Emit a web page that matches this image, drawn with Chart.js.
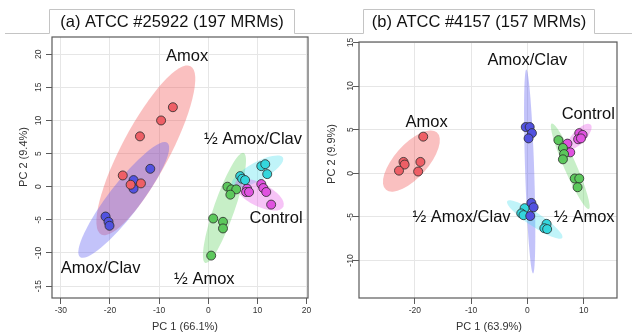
<!DOCTYPE html>
<html lang="en">
<head>
  <meta charset="UTF-8" />
  <title>PCA of MRM data</title>
  <script src="https://cdn.jsdelivr.net/npm/chart.js"></script>
  <style>
    body {
      margin: 0;
      background: #fff;
      width: 632px;
      height: 335px;
      position: relative;
      overflow: hidden;
    }
    canvas {
      position: absolute;
      top: 0;
    }
    #pcaA { left: 0; }
    #pcaB { left: 316px; }
  </style>
</head>
<body>
  <canvas id="pcaA" width="316" height="335"></canvas>
  <canvas id="pcaB" width="316" height="335"></canvas>

  <script>
    // group order used for every array below
    const groups = ['Amox', 'Amox/Clav', '½ Amox', '½ Amox/Clav', 'Control'];

    // ---- (a) ATCC #25922 ----
    const aAmox = [[-7.2, 12.0], [-9.6, 10.0], [-13.9, 7.6], [-17.4, 1.7], [-13.7, 0.5], [-15.8, 0.3]];
    const aAmoxClav = [[-11.8, 2.7], [-15.2, 1.0], [-15.2, -0.3], [-20.9, -4.5], [-20.3, -5.3], [-20.1, -5.9]];
    const aHalfAmox = [[3.9, 0.0], [4.7, -0.4], [5.7, -0.4], [4.5, -1.2], [1.0, -4.8], [3.0, -5.3], [3.0, -6.3], [0.6, -10.4]];
    const aHalfAmoxClav = [[10.8, 3.1], [11.6, 3.4], [12.0, 1.9], [6.5, 1.6], [6.9, 1.2], [7.5, 1.0]];
    const aControl = [[7.9, -0.3], [7.7, -0.8], [8.3, -0.8], [10.8, 0.4], [11.2, -0.2], [11.8, -0.8], [12.8, -2.7]];
    // ellipse: centre x, y, major tip x, y, minor tip x, y
    const aEllipses = [
      [-12.7, 5.5, -3.6, 18.2, -8.4, 3.8],
      [-17.2, -2.0, -8.3, 6.6, -14.7, -3.5],
      [3.3, -3.2, 7.2, 5.1, 5.3, -3.7],
      [10.0, 2.3, 15.2, 4.4, 10.9, 1.1],
      [10.4, -1.2, 15.3, -3.0, 9.5, -2.8]
    ];
    const aLabelPos = [[-4.3, 19.7], [-21.9, -12.3], [-0.8, -14.0], [9.1, 7.2], [13.8, -4.8]];

    // ---- (b) ATCC #4157 ----
    const bAmox = [[-18.5, 4.2], [-22.0, 1.3], [-21.8, 1.0], [-19.0, 1.3], [-22.8, 0.3], [-19.4, 0.2]];
    const bAmoxClav = [[-0.3, 5.3], [0.4, 5.3], [0.8, 4.6], [0.2, 4.0], [0.7, -3.4], [1.1, -3.9], [0.5, -4.9]];
    const bHalfAmox = [[5.5, 3.8], [6.3, 2.9], [6.5, 2.2], [6.3, 1.6], [8.4, -0.6], [9.2, -0.6], [8.9, -1.6]];
    const bHalfAmoxClav = [[-0.5, -4.0], [-1.1, -4.6], [-0.7, -4.8], [3.4, -5.8], [3.0, -6.3], [3.5, -6.4]];
    const bControl = [[7.1, 3.4], [7.6, 2.4], [9.2, 4.6], [9.8, 4.4], [9.0, 3.9], [9.5, 4.0]];
    const bEllipses = [
      [-20.6, 1.4, -16.1, 4.7, -18.3, 0.2],
      [0.4, 0.2, -0.2, 11.9, 1.2, 0.3],
      [7.6, 0.8, 4.3, 5.7, 8.6, 1.1],
      [1.3, -5.3, 6.2, -7.4, 0.7, -6.0],
      [9.2, 4.2, 11.2, 5.6, 10.1, 3.7]
    ];
    const bLabelPos = [[-17.9, 5.8], [0.0, 12.9], [10.1, -5.1], [-11.7, -5.1], [10.8, 6.7]];

    const pointColors = ['#ee5f66', '#5252e0', '#5cc85c', '#34d6dc', '#e052e0'];
    const fillColors = [
      'rgba(240,80,80,0.36)',
      'rgba(90,90,240,0.36)',
      'rgba(100,210,100,0.36)',
      'rgba(60,220,235,0.32)',
      'rgba(230,80,230,0.34)'
    ];
    const FONT = '"Liberation Sans", Arial, sans-serif';

    // confidence ellipses drawn in data space through the scales
    const ellipsePlugin = {
      id: 'ellipses',
      beforeDatasetsDraw(chart, args, opts) {
        const {ctx, chartArea, scales: {x, y}} = chart;
        ctx.save();
        ctx.beginPath();
        ctx.rect(chartArea.left, chartArea.top, chartArea.width, chartArea.height);
        ctx.clip();
        opts.items.forEach((e, i) => {
          const cx = x.getPixelForValue(e[0]), cy = y.getPixelForValue(e[1]);
          const ux = x.getPixelForValue(e[2]) - cx, uy = y.getPixelForValue(e[3]) - cy;
          const vx = x.getPixelForValue(e[4]) - cx, vy = y.getPixelForValue(e[5]) - cy;
          ctx.save();
          ctx.transform(ux, uy, vx, vy, cx, cy);
          ctx.beginPath();
          ctx.arc(0, 0, 1, 0, Math.PI * 2);
          ctx.restore();
          ctx.fillStyle = fillColors[i];
          ctx.fill();
        });
        ctx.restore();
      }
    };

    // group labels, frame, rotated y ticks, axis titles, title tab
    const decorPlugin = {
      id: 'decor',
      afterDatasetsDraw(chart, args, opts) {
        const {ctx, scales: {x, y}} = chart;
        ctx.save();
        ctx.fillStyle = '#111';
        ctx.font = '16.5px ' + FONT;
        ctx.textAlign = 'center';
        ctx.textBaseline = 'middle';
        opts.labels.forEach((p, i) => {
          ctx.fillText(groups[i], x.getPixelForValue(p[0]), y.getPixelForValue(p[1]));
        });
        ctx.restore();
      },
      afterDraw(chart, args, opts) {
        const {ctx, chartArea: a, scales: {y}} = chart;
        ctx.save();
        // plot frame
        ctx.strokeStyle = '#5a5a5a';
        ctx.lineWidth = 1.2;
        ctx.strokeRect(a.left, a.top, a.width, a.height);

        // y tick labels, rotated as in R
        ctx.fillStyle = '#333';
        ctx.font = '8.5px ' + FONT;
        ctx.textAlign = 'center';
        ctx.textBaseline = 'middle';
        y.ticks.forEach(t => {
          ctx.save();
          ctx.translate(a.left - opts.yTickGap, y.getPixelForValue(t.value));
          ctx.rotate(-Math.PI / 2);
          ctx.fillText(String(t.value), 0, 0);
          ctx.restore();
        });

        // axis titles
        ctx.font = '11px ' + FONT;
        ctx.fillText(opts.xTitle, opts.xTitleAt[0], opts.xTitleAt[1]);
        ctx.save();
        ctx.translate(opts.yTitleAt[0], opts.yTitleAt[1]);
        ctx.rotate(-Math.PI / 2);
        ctx.fillText(opts.yTitle, 0, 0);
        ctx.restore();

        // title tab
        const [t0, t1] = opts.tab;
        ctx.strokeStyle = '#c4c4c4';
        ctx.lineWidth = 1;
        ctx.beginPath();
        ctx.moveTo(opts.lineFrom, 33.5);
        ctx.lineTo(t0, 33.5);
        ctx.lineTo(t0, 9.5);
        ctx.lineTo(t1, 9.5);
        ctx.lineTo(t1, 33.5);
        ctx.lineTo(316, 33.5);
        ctx.stroke();
        ctx.fillStyle = '#111';
        ctx.font = '16.5px ' + FONT;
        ctx.fillText(opts.title, (t0 + t1) / 2, 22.5);
        ctx.restore();
      }
    };

    function makePanel(id, sets, ell, labels, p) {
      const gridOpts = {color: '#e6e6e6', tickColor: '#5a5a5a', tickLength: 6};
      new Chart(document.getElementById(id), {
        type: 'scatter',
        data: {
          datasets: sets.map((d, i) => ({
            label: groups[i],
            data: d,
            backgroundColor: pointColors[i],
            borderColor: '#2a2a2a',
            borderWidth: 0.8,
            pointRadius: 4.5
          }))
        },
        options: {
          responsive: false,
          animation: false,
          layout: {padding: {top: p.top, right: p.right, left: 0, bottom: 0}},
          scales: {
            x: {
              type: 'linear',
              min: p.xRange[0], max: p.xRange[1],
              border: {display: false},
              grid: gridOpts,
              ticks: {stepSize: 10, includeBounds: false, maxRotation: 0, padding: 2,
                      color: '#333', font: {size: 8.5, family: FONT}},
              afterFit: s => { s.height = 37; }
            },
            y: {
              type: 'linear',
              min: p.yRange[0], max: p.yRange[1],
              border: {display: false},
              grid: gridOpts,
              ticks: {stepSize: 5, includeBounds: false, display: false},
              afterFit: s => { s.width = p.left; }
            }
          },
          plugins: {
            legend: {display: false},
            tooltip: {enabled: false},
            ellipses: {items: ell},
            decor: {
              labels: labels,
              title: p.title, tab: p.tab, lineFrom: p.lineFrom,
              xTitle: p.xTitle, xTitleAt: p.xTitleAt,
              yTitle: p.yTitle, yTitleAt: p.yTitleAt,
              yTickGap: p.yTickGap
            }
          }
        },
        plugins: [ellipsePlugin, decorPlugin]
      });
    }

    makePanel('pcaA', [aAmox, aAmoxClav, aHalfAmox, aHalfAmoxClav, aControl], aEllipses, aLabelPos, {
      top: 37, right: 8, left: 52,
      xRange: [-31.8, 20.3], yRange: [-16.8, 22.6],
      title: '(a) ATCC #25922 (197 MRMs)', tab: [49.5, 294.5], lineFrom: 5,
      xTitle: 'PC 1 (66.1%)', xTitleAt: [185, 327],
      yTitle: 'PC 2 (9.4%)', yTitleAt: [24, 157],
      yTickGap: 13
    });

    makePanel('pcaB', [bAmox, bAmoxClav, bHalfAmox, bHalfAmoxClav, bControl], bEllipses, bLabelPos, {
      top: 42, right: 15, left: 43,
      xRange: [-29.9, 15.9], yRange: [-14.3, 15.05],
      title: '(b) ATCC #4157 (157 MRMs)', tab: [47.5, 278.5], lineFrom: 0,
      xTitle: 'PC 1 (63.9%)', xTitleAt: [173, 327],
      yTitle: 'PC 2 (9.9%)', yTitleAt: [16, 154],
      yTickGap: 8.5
    });
  </script>
</body>
</html>
